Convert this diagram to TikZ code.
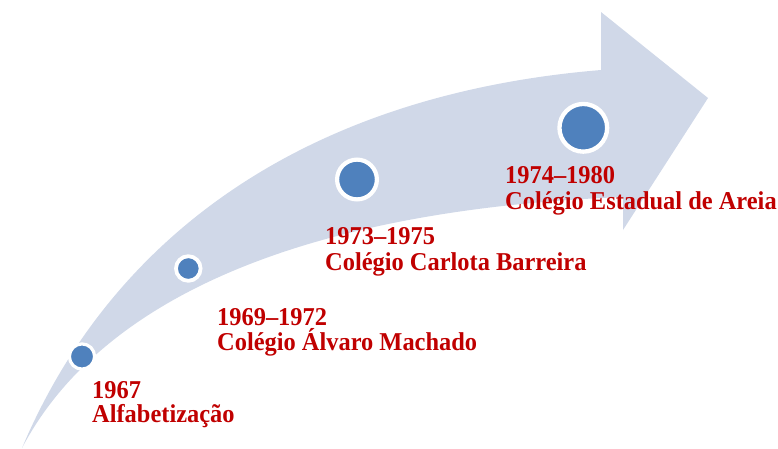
\documentclass[tikz,border=0pt]{standalone}
\usepackage{fontspec}
\setmainfont{Liberation Serif}[FakeStretch=0.95]
\definecolor{arrowfill}{RGB}{208,216,232}
\definecolor{dotblue}{RGB}{79,129,189}
\definecolor{lblred}{RGB}{192,0,0}
\begin{document}
\begin{tikzpicture}[x=1pt,y=-1pt,
  dot/.style={circle,fill=dotblue,draw=white,inner sep=0pt},
  lbl/.style={anchor=base west,inner sep=0pt,text=lblred,font=\fontsize{25.7}{27}\selectfont\bfseries}]
\useasboundingbox (0,0) rectangle (778,448);
% curved arrow
\coordinate (tail) at (22,448);
\coordinate (shu) at (601,70);
\coordinate (hu) at (601,12);
\coordinate (tip) at (708,98);
\coordinate (hl) at (623,230);
\coordinate (shl) at (623,197);
\fill[arrowfill] (tail) .. controls (110,240) and (300,95) .. (shu)
  -- (hu) -- (tip) -- (hl) -- (shl)
  .. controls (300,210) and (100,300) .. (tail) -- cycle;
% dots
\node[dot,line width=3.2pt,minimum size=25.2pt] (d1) at (82,356.5) {};
\node[dot,line width=3.8pt,minimum size=24.6pt] (d2) at (188.3,268.5) {};
\node[dot,line width=4.2pt,minimum size=39.8pt] (d3) at (357,179.5) {};
\node[dot,line width=4.3pt,minimum size=47.7pt] (d4) at (583.3,127.8) {};
% labels
\node[lbl] (y1) at (92,398) {1967};
\node[lbl] (n1) at (92,422) {Alfabetização};
\node[lbl] (y2) at (217,325) {1969–1972};
\node[lbl] (n2) at (217,350) {Colégio Álvaro Machado};
\node[lbl] (y3) at (325,244) {1973–1975};
\node[lbl] (n3) at (325,270) {Colégio Carlota Barreira};
\node[lbl] (y4) at (505,183) {1974–1980};
\node[lbl] (n4) at (505,209) {Colégio Estadual de Areia};
\end{tikzpicture}
\end{document}
